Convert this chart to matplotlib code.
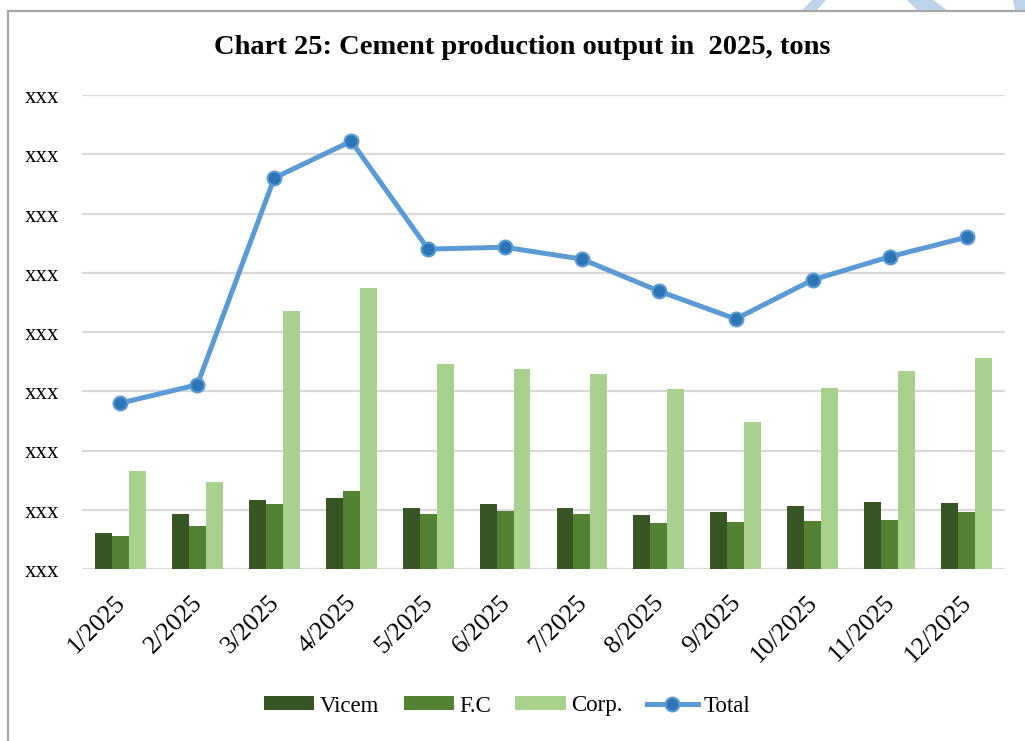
import matplotlib
matplotlib.use("Agg")
import numpy as np
import matplotlib.pyplot as plt
from matplotlib.patches import Rectangle, Polygon
from matplotlib.transforms import ScaledTranslation

# --- data (one grid step = 1 unit, the real scale is hidden as "xxx") ---
months = ["1/2025", "2/2025", "3/2025", "4/2025", "5/2025", "6/2025",
          "7/2025", "8/2025", "9/2025", "10/2025", "11/2025", "12/2025"]
vicem = [0.61, 0.93, 1.16, 1.20, 1.03, 1.10, 1.03, 0.91, 0.96, 1.06, 1.13, 1.11]
fc = [0.56, 0.73, 1.10, 1.32, 0.93, 0.98, 0.93, 0.78, 0.79, 0.81, 0.83, 0.96]
corp = [1.65, 1.47, 4.35, 4.74, 3.46, 3.38, 3.29, 3.04, 2.48, 3.05, 3.34, 3.56]
total = [2.80, 3.11, 6.60, 7.22, 5.40, 5.43, 5.23, 4.69, 4.22, 4.88, 5.27, 5.60]
ytick_labels = ["xxx"] * 9

plt.rcParams['font.family'] = ['Liberation Serif', 'DejaVu Serif']

W, H = 1025, 741
fig = plt.figure(figsize=(W / 100, H / 100), dpi=100)

# frame + decoration
fig.patches.append(Rectangle((8 / W, -0.1), 1.2, 1 - 11 / H + 0.1, transform=fig.transFigure,
                             fill=False, edgecolor="#a6a6a6", linewidth=1.6, clip_on=False))
for pts in [[(812, 0), (826, 0), (817, 10), (802, 10)],
            [(907, 0), (933, 0), (947, 10), (917, 10)],
            [(1013, 0), (1025, 0), (1025, 10), (1015, 10)]]:
    fig.patches.append(Polygon([(x / W, 1 - y / H) for x, y in pts], closed=True,
                               transform=fig.transFigure, facecolor="#bcd3ea",
                               edgecolor="none"))

ax = fig.add_axes([82 / W, 1 - 569 / H, (1005 - 82) / W, (569 - 95) / H])

x = np.arange(len(months))
bw = 0.22
b1 = ax.bar(x - bw, vicem, bw, color="#375623", label="Vicem", zorder=2)
b2 = ax.bar(x, fc, bw, color="#548235", label="F.C", zorder=2)
b3 = ax.bar(x + bw, corp, bw, color="#a9d18e", label="Corp.", zorder=2)
ln, = ax.plot(x, total, color="#5b9bd5", linewidth=3.6, marker="o", markersize=10,
              markerfacecolor="#2e75b6", markeredgecolor="#5b9bd5", markeredgewidth=1.5,
              label="Total", zorder=3)

ax.set_xlim(-0.5, len(months) - 0.5)
ax.set_ylim(0, 8)
ax.set_yticks(range(9))
ax.set_yticklabels(ytick_labels)
ax.grid(axis="y", color="#d9d9d9", linewidth=1.6, zorder=0)
ax.set_axisbelow(True)
for s in ax.spines.values():
    s.set_visible(False)
ax.tick_params(axis="y", length=0, pad=16, labelsize=16.5)
ax.tick_params(axis="x", length=0, pad=16, labelsize=18.5)
ax.set_xticks(x)
ax.set_xticklabels(months, rotation=45, ha="right", va="top", rotation_mode="anchor")
for lab in ax.get_xticklabels():
    lab.set_transform(lab.get_transform() + ScaledTranslation(-6 / 100, 0, fig.dpi_scale_trans))

fig.text(522 / W, 1 - 47 / H, "Chart 25: Cement production output in  2025, tons",
         ha="center", va="center", fontsize=20.5, fontweight="bold")

fig.legend(handles=[b1, b2, b3, ln], loc="center", bbox_to_anchor=(507 / W, 1 - 706 / H),
           ncol=4, frameon=False, fontsize=16.5, handlelength=2.2, handleheight=0.55,
           handletextpad=0.25, columnspacing=1.05)

fig.savefig("out.png", dpi=100)
